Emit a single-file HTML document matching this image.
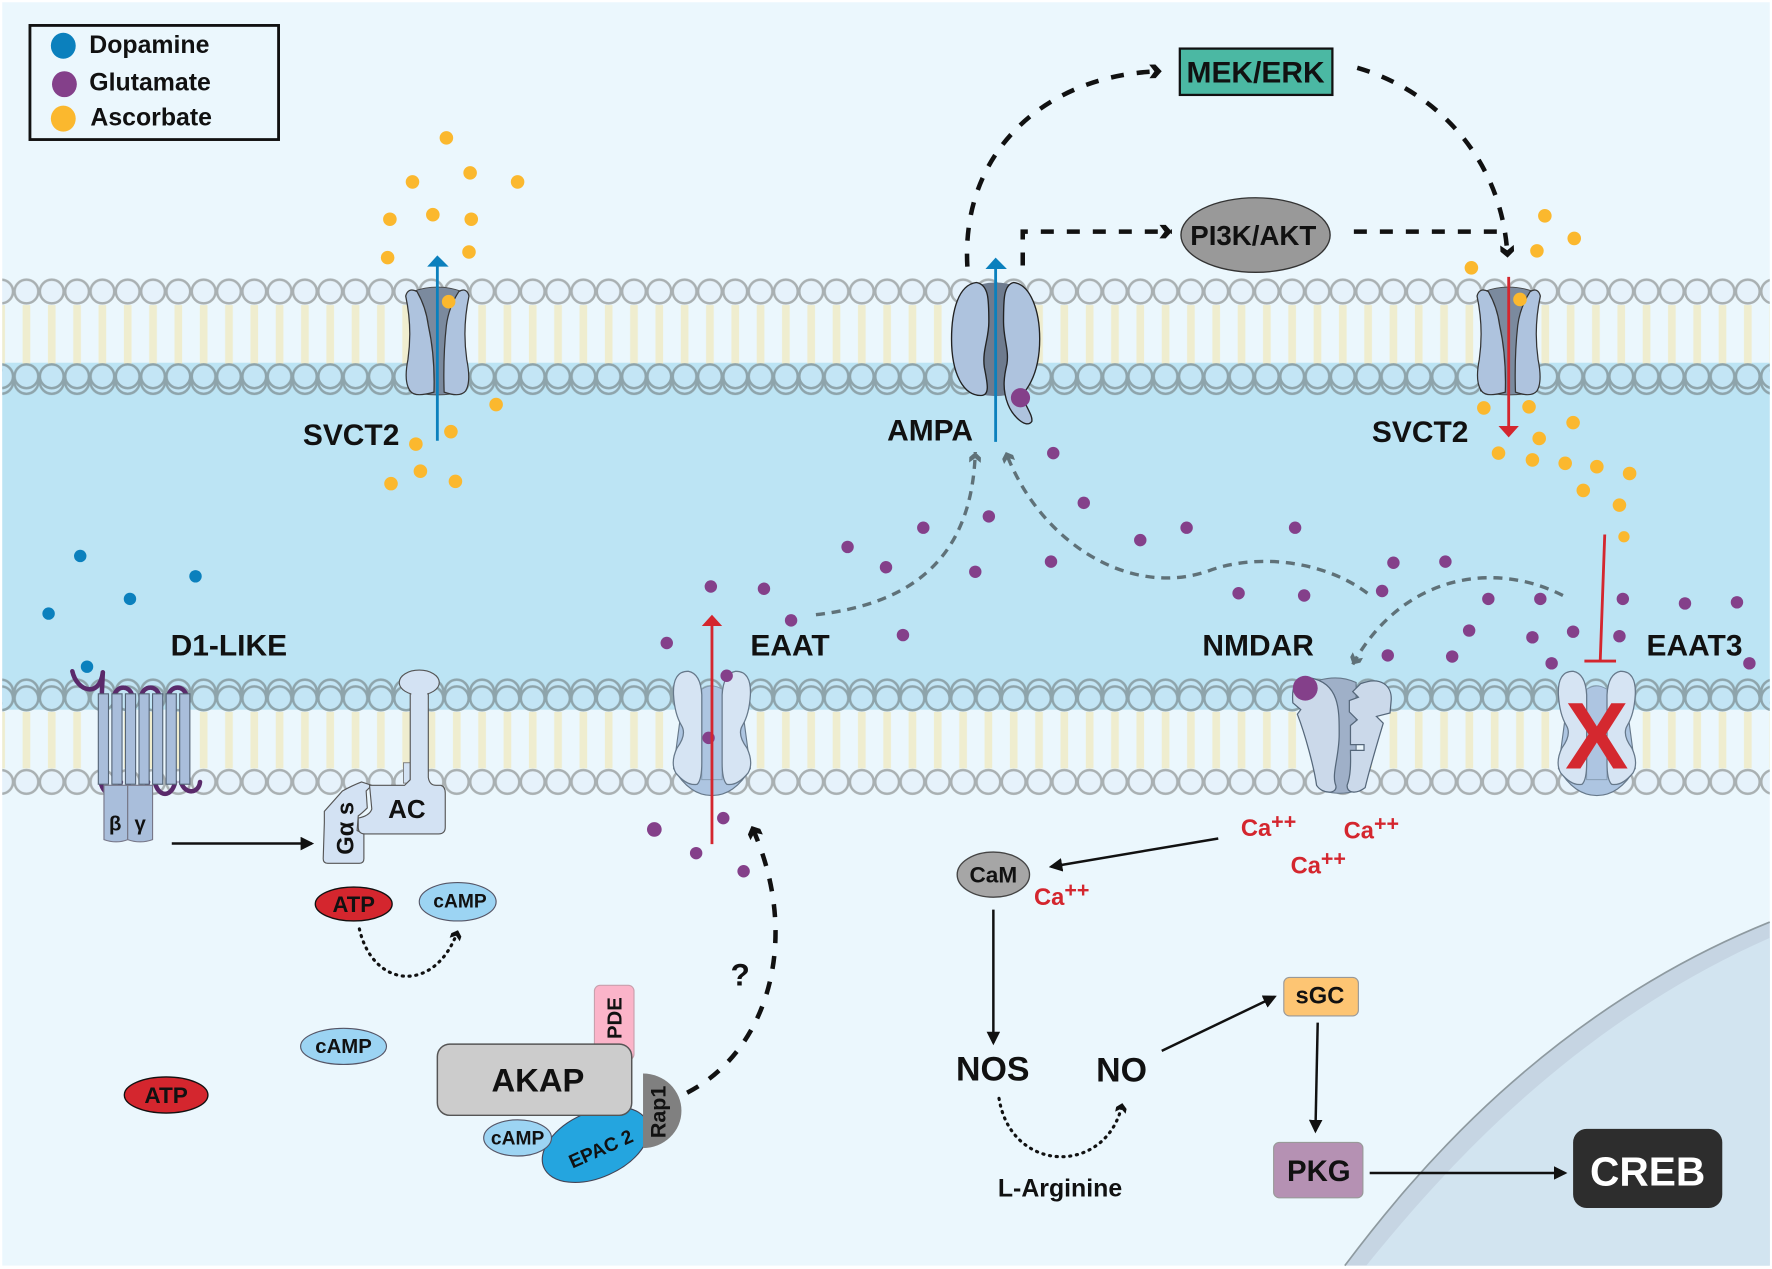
<!DOCTYPE html>
<html><head><meta charset="utf-8"><style>
html,body{margin:0;padding:0;background:#fff}
svg{display:block}
text{font-family:"Liberation Sans",sans-serif;font-weight:bold;fill:#111}
</style></head><body>
<svg xmlns="http://www.w3.org/2000/svg" width="1772" height="1269" viewBox="0 0 1568 1123" preserveAspectRatio="none">
<defs>
<pattern id="hL" x="12.2" y="240" width="22.4" height="40" patternUnits="userSpaceOnUse"><circle cx="11.2" cy="18" r="10.5" fill="#e6f2fb" stroke="#a9b0b2" stroke-width="2.200"/></pattern>
<pattern id="hD" x="12.2" y="0" width="22.4" height="40" patternUnits="userSpaceOnUse"><circle cx="11.2" cy="20" r="10.5" fill="#c3e5f5" stroke="#8ea4ab" stroke-width="2.200"/></pattern>
<pattern id="tail" x="12.2" y="0" width="22.4" height="40" patternUnits="userSpaceOnUse"><rect x="7.800" y="0" width="6.800" height="40" fill="#efedcf"/></pattern>
<marker id="s" viewBox="0 0 12 12" refX="10" refY="6" markerWidth="12" markerHeight="12" markerUnits="userSpaceOnUse" orient="auto"><path d="M0 0L12 6L0 12Z" fill="#111"/></marker>
<marker id="c" viewBox="0 0 14 14" refX="13" refY="7" markerWidth="14" markerHeight="14" markerUnits="userSpaceOnUse" orient="auto"><path d="M2 1L7.500 1L13 7L7.500 13L2 13L6.500 7Z" fill="#111"/></marker>
<marker id="c2" viewBox="0 0 14 14" refX="12" refY="7" markerWidth="11" markerHeight="11" markerUnits="userSpaceOnUse" orient="auto"><path d="M2 1L7.500 1L13 7L7.500 13L2 13L6.500 7Z" fill="#111"/></marker>
<marker id="g" viewBox="0 0 14 14" refX="13" refY="7" markerWidth="12" markerHeight="12" markerUnits="userSpaceOnUse" orient="auto"><path d="M2 1L7.500 1L13 7L7.500 13L2 13L6.500 7Z" fill="#5f7178"/></marker>
<g id="svct">
<path d="M-22 258Q0 250 22 258L25 346Q0 353-25 346Z" fill="#7b8a9e" stroke="#444" stroke-width=".8"/>
<path d="M-28 262Q-26 254-18 258Q-10 272-8 288Q-2 315-3 347Q-20 352-24 346Q-30 338-26 318Q-22 290-28 262Z" fill="#aec3de" stroke="#333" stroke-width="1.100"/>
<path d="M28 262Q26 254 19 258Q10 272 8 288Q5 315 6 347Q20 352 25 346Q30 338 26 318Q22 290 28 262Z" fill="#aec3de" stroke="#333" stroke-width="1.100"/>
</g>
<g id="eaat">
<path d="M-34 680Q-20 704 0 704Q20 704 34 680L26 620L-26 620Z" fill="#adc5e1" stroke="#66788a" stroke-width="1"/>
<path d="M-9 610Q0 604 9 610L9 690L-9 690Z" fill="#adc5e1" stroke="#8298ae" stroke-width=".8"/>
<path d="M-21 594Q-35 594-34 615Q-33 632-27 642Q-22 650-31 662Q-37 675-32 684Q-22 696-13 694Q-9 690-9 675L-9 615Q-10 596-21 594Z" fill="#d6e4f3" stroke="#66788a" stroke-width="1.100"/>
<path d="M21 594Q35 594 34 615Q33 632 27 642Q22 650 31 662Q37 675 32 684Q22 696 13 694Q9 690 9 675L9 615Q10 596 21 594Z" fill="#d6e4f3" stroke="#66788a" stroke-width="1.100"/>
</g>
</defs>

<rect x="2" y="2" width="1564" height="1118" fill="#ebf7fd"/>
<rect x="2" y="321" width="1564" height="307" fill="#bce4f4"/>

<!-- top membrane -->
<rect x="2" y="270" width="1564" height="52" fill="url(#tail)"/>
<rect x="2" y="240" width="1564" height="40" fill="url(#hL)"/>
<g transform="translate(0,318)"><rect x="2" y="0" width="1564" height="40" fill="url(#hD)"/></g>
<g transform="translate(0,313)"><rect x="2" y="0" width="1564" height="40" fill="url(#hD)"/></g>
<!-- lower membrane -->
<rect x="2" y="630" width="1564" height="50" fill="url(#tail)"/>
<g transform="translate(0,592)"><rect x="2" y="0" width="1564" height="40" fill="url(#hD)"/></g>
<g transform="translate(0,598)"><rect x="2" y="0" width="1564" height="40" fill="url(#hD)"/></g>
<g transform="translate(0,434)"><rect x="2" y="240" width="1564" height="40" fill="url(#hL)"/></g>

<!-- nucleus -->
<path d="M1190 1120C1250 1040 1370 895 1566 816L1566 1120Z" fill="#c6d5e3"/>
<path d="M1209 1120C1270 1045 1385 910 1566 830L1566 1120Z" fill="#d2e4f0"/>
<path d="M1190 1120C1250 1040 1370 895 1566 816" fill="none" stroke="#8e9aa0" stroke-width="1.500"/>

<!-- legend -->
<rect x="26.5" y="22.5" width="220" height="101" fill="none" stroke="#111" stroke-width="2.500"/>
<ellipse cx="56" cy="40.500" rx="11" ry="11.500" fill="#0b80bd"/>
<ellipse cx="57" cy="74.500" rx="11" ry="11.500" fill="#84408a"/>
<ellipse cx="56" cy="105" rx="11" ry="11.500" fill="#fbb82e"/>
<text x="79" y="47" font-size="22">Dopamine</text>
<text x="79" y="80" font-size="22">Glutamate</text>
<text x="80" y="111" font-size="22">Ascorbate</text>

<!-- transporters -->
<use href="#svct" x="387"/>
<use href="#svct" x="1335"/>
<!-- AMPA -->
<path d="M856 256Q881 244 906 256L906 345Q881 356 856 345Z" fill="#6e7b8e"/>
<path d="M864 250C848 252 842 275 842 300C842 330 852 350 868 350C876 350 874 340 871 325C869 310 875 300 875 285C875 265 875 252 864 250Z" fill="#aec3de" stroke="#222" stroke-width="1.200"/>
<path d="M897 250C912 252 920 275 920 300C920 325 913 340 904 350C909 362 914 368 913 373C908 380 896 368 892 358C887 345 888 335 891 322C893 310 888 300 888 285C888 265 888 252 897 250Z" fill="#aec3de" stroke="#222" stroke-width="1.200"/>
<circle cx="903" cy="352" r="8.500" fill="#84408a"/>

<use href="#eaat" x="630"/>
<use href="#eaat" x="1413"/>
<!-- NMDAR -->
<path d="M1167 602Q1185 597 1200 604L1200 700Q1185 704 1172 700Z" fill="#9fb0c8" stroke="#66788a"/>
<path d="M1160 600C1144 600 1143 610 1144 622L1151 628L1148 632C1155 650 1163 680 1165 695C1170 703 1184 703 1182 695C1178 685 1185 670 1185 650C1185 630 1186 605 1160 600Z" fill="#cbd9ea" stroke="#55677a" stroke-width="1.100"/>
<path d="M1204 605C1222 598 1232 607 1231 620L1230 631L1218 634L1224 640C1218 660 1212 680 1208 697C1200 703 1192 702 1192 695C1196 685 1195 670 1195 664L1207 664L1207 659L1195 659L1195 642L1201 637L1194 630L1194 620L1202 617L1197 612Z" fill="#cbd9ea" stroke="#55677a" stroke-width="1.100"/>
<circle cx="1155" cy="609" r="11" fill="#84408a"/>
<text x="1413" y="680" font-size="84" text-anchor="middle" style="fill:#d4282f">X</text>

<!-- D1 receptor -->
<g fill="none" stroke="#5a2a6b" stroke-width="4" stroke-linecap="round">
<path d="M64 594C68 612 88 618 91 595"/>
<path d="M91 595L90 616"/>
<path d="M101 616C103 606 115 606 117 616"/>
<path d="M125 616C127 606 139 606 141 616"/>
<path d="M149 616C151 606 163 606 165 616"/>
<path d="M89 692C92 706 104 706 107 692"/>
<path d="M113 692C116 706 128 706 131 692"/>
<path d="M137 692C140 706 152 706 155 692"/>
<path d="M160 692C164 704 176 702 177 692"/>
</g>
<g fill="#a9bedb" stroke="#556577" stroke-width="1">
<rect x="87" y="614" width="9" height="80"/><rect x="99" y="614" width="9" height="80"/><rect x="111" y="614" width="9" height="80"/><rect x="123" y="614" width="9" height="80"/><rect x="135" y="614" width="9" height="80"/><rect x="147" y="614" width="9" height="80"/><rect x="159" y="614" width="9" height="80"/>
</g>
<path d="M92 695H113V743Q103 747 92 743Z" fill="#a9bedb" stroke="#778" stroke-width="1"/>
<path d="M113 695H135V743Q124 747 113 743Z" fill="#a9bedb" stroke="#778" stroke-width="1"/>
<text x="102" y="735" font-size="18" text-anchor="middle">β</text>
<text x="124" y="735" font-size="18" text-anchor="middle">γ</text>
<line x1="152" y1="746.500" x2="276" y2="746.500" stroke="#111" stroke-width="2.200" marker-end="url(#s)"/>

<!-- AC -->
<path d="M287 728V718L303 700Q312 695 320 692L329 695L324 700L325 715Q320 720 317 722L316 735L322 738V760Q322 764 318 764H290Q286 764 286 760Z" fill="#d3e2f3" stroke="#555" stroke-width="1"/>
<rect x="357" y="675" width="6" height="18" fill="#d3e2f3" stroke="#777" stroke-width=".8"/>
<path d="M327 695H358L363 690V612H379V688Q380 695 386 695H390Q394 696 394 702V732Q394 738 388 738H323Q317 738 317 732V724Q327 722 329 716Z" fill="#d3e2f3" stroke="#555" stroke-width="1"/>
<ellipse cx="371" cy="604" rx="17.700" ry="11" fill="#d3e2f3" stroke="#555"/>
<path d="M364 613H378V618H364Z" fill="#d3e2f3"/>
<text x="360" y="724" font-size="23" text-anchor="middle">AC</text>
<text transform="translate(313,733) rotate(-90)" font-size="21" text-anchor="middle">Gα s</text>

<!-- small ovals -->
<ellipse cx="313" cy="800" rx="34" ry="15" fill="#d4262e" stroke="#111" stroke-width="1.200"/>
<text x="313" y="807" font-size="19.500" text-anchor="middle">ATP</text>
<ellipse cx="405" cy="798" rx="34" ry="17" fill="#9cd4f3" stroke="#556"/>
<text x="407" y="803" font-size="17" text-anchor="middle">cAMP</text>
<ellipse cx="304" cy="926" rx="38" ry="16" fill="#9cd4f3" stroke="#556"/>
<text x="304" y="932" font-size="18" text-anchor="middle">cAMP</text>
<ellipse cx="147" cy="969" rx="37" ry="16" fill="#d4262e" stroke="#111" stroke-width="1.200"/>
<text x="147" y="976" font-size="20" text-anchor="middle">ATP</text>

<!-- AKAP cluster -->
<rect x="526" y="872" width="35" height="66" rx="5" fill="#fbb4c9" stroke="#c9a0ad"/>
<text transform="translate(550,901) rotate(-90)" font-size="18" text-anchor="middle">PDE</text>
<ellipse cx="527" cy="1013" rx="50" ry="29" transform="rotate(-24 527 1013)" fill="#24a5df" stroke="#445"/>
<path d="M569 950A34 33 0 0 1 569 1016Z" fill="#808080"/>
<text transform="translate(589,984) rotate(-90)" font-size="19" text-anchor="middle">Rap1</text>
<text transform="translate(534,1022) rotate(-24)" font-size="17" text-anchor="middle">EPAC 2</text>
<rect x="387" y="924" width="172" height="63" rx="11" fill="#cccccc" stroke="#555" stroke-width="1.300"/>
<text x="476" y="966" font-size="29" text-anchor="middle">AKAP</text>
<ellipse cx="458" cy="1007" rx="30" ry="16" fill="#9cd4f3" stroke="#556"/>
<text x="458" y="1013" font-size="17" text-anchor="middle">cAMP</text>

<!-- dotted arcs -->
<path d="M318 822C330 875 385 880 405 824" fill="none" stroke="#111" stroke-width="2.800" stroke-dasharray="1 5" stroke-linecap="round" marker-end="url(#c2)"/>
<path d="M884 972C895 1040 980 1040 993 977" fill="none" stroke="#111" stroke-width="2.800" stroke-dasharray="1 5" stroke-linecap="round" marker-end="url(#c2)"/>

<!-- black dashed -->
<g fill="none" stroke="#111" stroke-width="4" stroke-dasharray="11.500 11.500">
<path d="M856 236C850 130 930 65 1028 63" marker-end="url(#c)"/>
<path d="M1201 60C1270 80 1330 140 1334 228" marker-end="url(#c)"/>
<path d="M905 235V205H1037" marker-end="url(#c)"/>
<path d="M1198 205H1325"/>
<path d="M608 967C680 930 710 830 665 731" marker-end="url(#c)"/>
</g>
<text x="655" y="872" font-size="28" text-anchor="middle">?</text>

<!-- gray dashed -->
<g fill="none" stroke="#5f7178" stroke-width="3" stroke-dasharray="8 6">
<path d="M722 544C800 535 860 500 863 400" marker-end="url(#g)"/>
<path d="M1210 525C1170 495 1110 490 1070 505C1000 530 920 480 890 400" marker-end="url(#g)"/>
<path d="M1383 527C1320 495 1240 510 1197 588" marker-end="url(#g)"/>
</g>

<!-- MEK / PI3K -->
<rect x="1044" y="43" width="135" height="41" fill="#4bb8a3" stroke="#111" stroke-width="2"/>
<text x="1111" y="73" font-size="26.500" text-anchor="middle">MEK/ERK</text>
<ellipse cx="1111" cy="208" rx="66" ry="33" fill="#999" stroke="#333" stroke-width="1.200"/>
<text x="1109" y="217" font-size="24.500" text-anchor="middle">PI3K/AKT</text>

<!-- dots ascorbate -->
<g fill="#fbb82e">
<circle cx="395" cy="122" r="6"/><circle cx="416" cy="153" r="6"/><circle cx="365" cy="161" r="6"/><circle cx="458" cy="161" r="6"/><circle cx="345" cy="194" r="6"/><circle cx="383" cy="190" r="6"/><circle cx="417" cy="194" r="6"/><circle cx="343" cy="228" r="6"/><circle cx="415" cy="223" r="6"/><circle cx="397" cy="267" r="6"/><circle cx="439" cy="358" r="6"/><circle cx="399" cy="382" r="6"/><circle cx="368" cy="393" r="6"/><circle cx="372" cy="417" r="6"/><circle cx="346" cy="428" r="6"/><circle cx="403" cy="426" r="6"/>
<circle cx="1367" cy="191" r="6"/><circle cx="1393" cy="211" r="6"/><circle cx="1360" cy="222" r="6"/><circle cx="1302" cy="237" r="6"/><circle cx="1345" cy="265" r="6"/><circle cx="1313" cy="361" r="6"/><circle cx="1353" cy="360" r="6"/><circle cx="1392" cy="374" r="6"/><circle cx="1362" cy="388" r="6"/><circle cx="1326" cy="401" r="6"/><circle cx="1356" cy="407" r="6"/><circle cx="1385" cy="410" r="6"/><circle cx="1413" cy="413" r="6"/><circle cx="1442" cy="419" r="6"/><circle cx="1401" cy="434" r="6"/><circle cx="1433" cy="447" r="6"/><circle cx="1437" cy="475" r="5"/>
</g>
<!-- dots glutamate -->
<g fill="#84408a">
<circle cx="932" cy="401" r="5.500"/><circle cx="959" cy="445" r="5.500"/><circle cx="875" cy="457" r="5.500"/><circle cx="817" cy="467" r="5.500"/><circle cx="750" cy="484" r="5.500"/><circle cx="784" cy="502" r="5.500"/><circle cx="863" cy="506" r="5.500"/><circle cx="930" cy="497" r="5.500"/><circle cx="1009" cy="478" r="5.500"/><circle cx="1050" cy="467" r="5.500"/><circle cx="1146" cy="467" r="5.500"/><circle cx="1233" cy="498" r="5.500"/><circle cx="1279" cy="497" r="5.500"/><circle cx="1096" cy="525" r="5.500"/><circle cx="1154" cy="527" r="5.500"/><circle cx="1223" cy="523" r="5.500"/><circle cx="1317" cy="530" r="5.500"/><circle cx="1363" cy="530" r="5.500"/><circle cx="1436" cy="530" r="5.500"/><circle cx="1491" cy="534" r="5.500"/><circle cx="1537" cy="533" r="5.500"/><circle cx="1300" cy="558" r="5.500"/><circle cx="1356" cy="564" r="5.500"/><circle cx="1392" cy="559" r="5.500"/><circle cx="1433" cy="563" r="5.500"/><circle cx="1228" cy="580" r="5.500"/><circle cx="1285" cy="581" r="5.500"/><circle cx="1373" cy="587" r="5.500"/><circle cx="1548" cy="587" r="5.500"/>
<circle cx="629" cy="519" r="5.500"/><circle cx="676" cy="521" r="5.500"/><circle cx="700" cy="549" r="5.500"/><circle cx="799" cy="562" r="5.500"/><circle cx="590" cy="569" r="5.500"/><circle cx="643" cy="598" r="5.500"/><circle cx="627" cy="653" r="5.500"/><circle cx="640" cy="724" r="5.500"/><circle cx="579" cy="734" r="6.500"/><circle cx="616" cy="755" r="5.500"/><circle cx="658" cy="771" r="5.500"/>
</g>
<!-- dots dopamine -->
<g fill="#0b80bd">
<circle cx="71" cy="492" r="5.500"/><circle cx="115" cy="530" r="5.500"/><circle cx="173" cy="510" r="5.500"/><circle cx="43" cy="543" r="5.500"/><circle cx="77" cy="590" r="5.500"/>
</g>

<!-- vertical arrows -->
<line x1="387" y1="390" x2="387" y2="234" stroke="#0b80bd" stroke-width="2.500"/><path d="M378 236L387 226L397 236Z" fill="#0b80bd"/>
<line x1="881" y1="391" x2="881" y2="238" stroke="#0b80bd" stroke-width="2.500"/><path d="M872 238L881 228L891 238Z" fill="#0b80bd"/>
<line x1="1335" y1="245" x2="1335" y2="378" stroke="#d4262e" stroke-width="2.500"/><path d="M1326 377L1344 377L1335 387Z" fill="#d4262e"/>
<line x1="630" y1="747" x2="630" y2="552" stroke="#d4262e" stroke-width="2.500"/><path d="M621 554L630 544L639 554Z" fill="#d4262e"/>
<path d="M1420 473L1416 585M1402 585H1430" fill="none" stroke="#d4262e" stroke-width="2.500"/>

<!-- labels -->
<text x="268" y="394" font-size="26.500">SVCT2</text>
<text x="1214" y="391" font-size="26.500">SVCT2</text>
<text x="785" y="390" font-size="26.500">AMPA</text>
<text x="151" y="580" font-size="26.500">D1-LIKE</text>
<text x="664" y="580" font-size="26.500">EAAT</text>
<text x="1064" y="580" font-size="26.500">NMDAR</text>
<text x="1457" y="580" font-size="26.500">EAAT3</text>

<!-- lower-right pathway -->
<ellipse cx="879" cy="774" rx="32" ry="20" fill="#a6a6a6" stroke="#444" stroke-width="1.200"/>
<text x="879" y="781" font-size="20" text-anchor="middle">CaM</text>
<g font-size="21">
<text x="1098" y="740" style="fill:#d4262e">Ca<tspan font-size="19" dy="-7" style="fill:#d4262e">++</tspan></text>
<text x="1189" y="742" style="fill:#d4262e">Ca<tspan font-size="19" dy="-7" style="fill:#d4262e">++</tspan></text>
<text x="1142" y="773" style="fill:#d4262e">Ca<tspan font-size="19" dy="-7" style="fill:#d4262e">++</tspan></text>
<text x="915" y="801" style="fill:#d4262e">Ca<tspan font-size="19" dy="-7" style="fill:#d4262e">++</tspan></text>
</g>
<g stroke="#111" stroke-width="2.200" fill="none">
<line x1="1078" y1="742" x2="930" y2="767" marker-end="url(#s)"/>
<line x1="879" y1="805" x2="879" y2="923" marker-end="url(#s)"/>
<line x1="1028" y1="930" x2="1128" y2="882" marker-end="url(#s)"/>
<line x1="1166" y1="905" x2="1164" y2="1001" marker-end="url(#s)"/>
<line x1="1212" y1="1038" x2="1385" y2="1038" marker-end="url(#s)"/>
</g>
<text x="846" y="956" font-size="30">NOS</text>
<text x="970" y="957" font-size="30">NO</text>
<text x="883" y="1059" font-size="22">L-Arginine</text>
<rect x="1136" y="865" width="66" height="34" rx="5" fill="#fdc573" stroke="#999"/>
<text x="1168" y="888" font-size="21" text-anchor="middle">sGC</text>
<rect x="1127" y="1011" width="79" height="49" rx="5" fill="#b591b3" stroke="#999"/>
<text x="1167" y="1045" font-size="26" text-anchor="middle">PKG</text>
<rect x="1392" y="999" width="132" height="70" rx="12" fill="#2d2d2d"/>
<text x="1458" y="1049" font-size="36" text-anchor="middle" style="fill:#fff">CREB</text>
</svg>
</body></html>
